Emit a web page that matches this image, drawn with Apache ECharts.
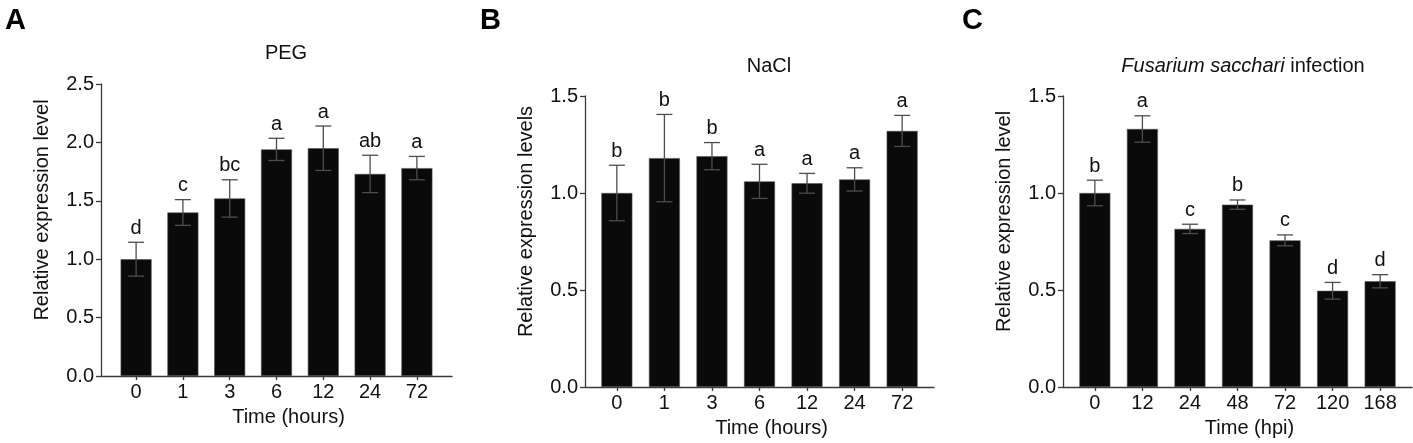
<!DOCTYPE html>
<html>
	<head>
		<meta charset="utf-8">
		<title></title>
		<script src="https://cdn.jsdelivr.net/npm/echarts@6/dist/echarts.min.js"></script>
	</head>
	<body style="margin:0;background:#fff;">
		<div id="main" style="width:1413px;height:443px;"></div>

		<script>
			// data
			var hoursCats = ['0', '1', '3', '6', '12', '24', '72'];
			var hpiCats = ['0', '12', '24', '48', '72', '120', '168'];

			var pegMean = [1.00, 1.40, 1.52, 1.94, 1.95, 1.73, 1.78];
			var pegSd = [0.145, 0.11, 0.16, 0.095, 0.19, 0.16, 0.10];
			var pegLetters = ['d', 'c', 'bc', 'a', 'a', 'ab', 'a'];

			var naclMean = [1.00, 1.18, 1.19, 1.06, 1.05, 1.07, 1.32];
			var naclSd = [0.143, 0.225, 0.07, 0.088, 0.051, 0.06, 0.08];
			var naclLetters = ['b', 'b', 'b', 'a', 'a', 'a', 'a'];

			var fsMean = [1.00, 1.33, 0.815, 0.94, 0.756, 0.496, 0.545];
			var fsSd = [0.066, 0.068, 0.024, 0.024, 0.028, 0.043, 0.034];
			var fsLetters = ['b', 'a', 'c', 'b', 'c', 'd', 'd'];

			var font = 'Liberation Sans, Arial, sans-serif';
			var axisColor = '#3a3a3a';
			var fs = 20;

			var panels = [
				{ cats: hoursCats, mean: pegMean, sd: pegSd, letters: pegLetters, ymax: 2.5,
					yname: 'Relative expression level', xname: 'Time (hours)',
					grid: { left: 101, width: 351, top: 84, bottom: 67 }, pad: 0.75 },
				{ cats: hoursCats, mean: naclMean, sd: naclSd, letters: naclLetters, ymax: 1.5,
					yname: 'Relative expression levels', xname: 'Time (hours)',
					grid: { left: 585, width: 349, top: 96, bottom: 56 }, pad: 0.67 },
				{ cats: hpiCats, mean: fsMean, sd: fsSd, letters: fsLetters, ymax: 1.5,
					yname: 'Relative expression level', xname: 'Time (hpi)',
					grid: { left: 1063, width: 349, top: 96, bottom: 56 }, pad: 0.67 }
			];

			var myChart = echarts.init(document.getElementById('main'));

			var grids = [], xAxes = [], yAxes = [], series = [];
			var idx = [0, 1, 2, 3, 4, 5, 6];

			panels.forEach(function(p, i) {
				grids.push(p.grid);
				xAxes.push({
					type: 'value',
					gridIndex: i,
					min: -p.pad,
					max: 6 + p.pad,
					splitLine: { show: false },
					axisLine: { onZero: false, lineStyle: { color: axisColor, width: 1.3 } },
					axisTick: { show: true, length: 4, customValues: idx, lineStyle: { color: axisColor, width: 1.3 } },
					axisLabel: {
						customValues: idx,
						margin: 6,
						color: '#111',
						fontSize: fs,
						fontFamily: font,
						formatter: function(v) { return p.cats[Math.round(v)]; }
					},
					name: p.xname,
					nameLocation: 'middle',
					nameGap: 31,
					nameTextStyle: { color: '#111', fontSize: fs, fontFamily: font, padding: [0, 0, 0, 24] }
				});
				yAxes.push({
					type: 'value',
					gridIndex: i,
					min: 0,
					max: p.ymax,
					interval: 0.5,
					splitLine: { show: false },
					axisLine: { show: true, onZero: false, lineStyle: { color: axisColor, width: 1.3 } },
					axisTick: { show: true, length: 5, lineStyle: { color: axisColor, width: 1.3 } },
					axisLabel: {
						margin: 7,
						color: '#111',
						fontSize: fs,
						fontFamily: font,
						formatter: function(v) { return v.toFixed(1); }
					},
					name: p.yname,
					nameLocation: 'middle',
					nameGap: 49,
					nameTextStyle: { color: '#111', fontSize: fs, fontFamily: font, padding: [0, 0, 0, 40] }
				});

				series.push({
					type: 'bar',
					xAxisIndex: i,
					yAxisIndex: i,
					barWidth: 31,
					itemStyle: { color: '#0a0a0a', borderColor: '#555', borderWidth: 0.6 },
					data: p.mean.map(function(m, k) { return [k, m]; })
				});

				series.push({
					type: 'custom',
					xAxisIndex: i,
					yAxisIndex: i,
					z: 5,
					encode: { x: 0, y: [1, 2] },
					data: p.mean.map(function(m, k) { return [k, m - p.sd[k], m + p.sd[k]]; }),
					renderItem: function(params, api) {
						var x = api.value(0);
						var hi = api.coord([x, api.value(2)]);
						var lo = api.coord([x, api.value(1)]);
						var cap = 8;
						var st = { stroke: '#4d4d4d', lineWidth: 1.3 };
						return {
							type: 'group',
							children: [
								{ type: 'line', shape: { x1: hi[0], y1: hi[1], x2: lo[0], y2: lo[1] }, style: st },
								{ type: 'line', shape: { x1: hi[0] - cap, y1: hi[1], x2: hi[0] + cap, y2: hi[1] }, style: st },
								{ type: 'line', shape: { x1: lo[0] - cap, y1: lo[1], x2: lo[0] + cap, y2: lo[1] }, style: st },
								{ type: 'text', x: hi[0], y: hi[1] - 4, style: {
									text: p.letters[params.dataIndex], align: 'center', verticalAlign: 'bottom',
									fill: '#111', fontSize: fs, fontFamily: font } }
							]
						};
					}
				});
			});

			var option = {
				backgroundColor: '#fff',
				animation: false,
				title: [
					{ text: 'A', left: 0, top: 1, textStyle: { fontSize: 29, fontWeight: 'bold', fontFamily: font, color: '#000' } },
					{ text: 'B', left: 475, top: 1, textStyle: { fontSize: 29, fontWeight: 'bold', fontFamily: font, color: '#000' } },
					{ text: 'C', left: 957, top: 1, textStyle: { fontSize: 29, fontWeight: 'bold', fontFamily: font, color: '#000' } },
					{ text: 'PEG', left: 281, top: 38, textAlign: 'center',
						textStyle: { fontSize: fs, fontWeight: 'normal', fontFamily: font, color: '#111' } },
					{ text: 'NaCl', left: 764, top: 51, textAlign: 'center',
						textStyle: { fontSize: fs, fontWeight: 'normal', fontFamily: font, color: '#111' } },
					{ text: '{i|Fusarium sacchari} infection', left: 1238, top: 51, textAlign: 'center',
						textStyle: { fontSize: fs, fontWeight: 'normal', fontFamily: font, color: '#111',
							rich: { i: { fontStyle: 'italic', fontSize: fs, fontFamily: font, color: '#111' } } } }
				],
				grid: grids,
				xAxis: xAxes,
				yAxis: yAxes,
				series: series
			};
			myChart.setOption(option);
		</script>
	</body>
</html>
